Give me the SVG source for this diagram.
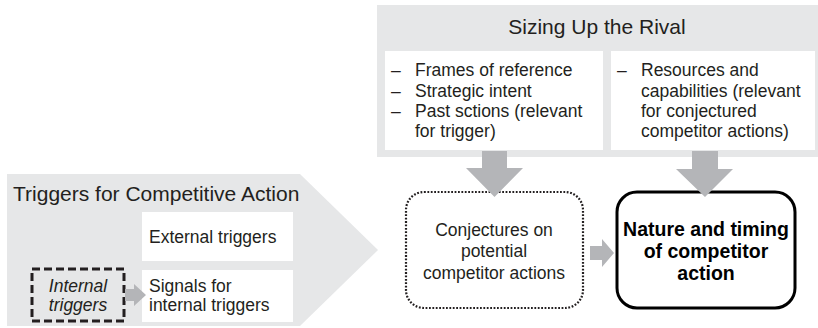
<svg xmlns="http://www.w3.org/2000/svg" width="818" height="328" viewBox="0 0 818 328">
  <style>
    .panel { fill: #e6e7e8; }
    .card { fill: #ffffff; }
    .arrow { fill: #b4b5b8; }
    .txt { font-family: "Liberation Sans", Arial, sans-serif; font-size: 17.5px; fill: #231f20; }
    .head { font-family: "Liberation Sans", Arial, sans-serif; font-size: 21px; fill: #231f20; }
    .bold { font-family: "Liberation Sans", Arial, sans-serif; font-size: 19.5px; font-weight: bold; fill: #000000; }
    .mid { text-anchor: middle; }
  </style>

  <!-- Triggers panel (chevron) -->
  <g id="triggers">
    <polygon class="panel" points="7,174 300,174 378,250 300,326 7,326"/>
    <text class="head" x="13" y="201">Triggers for Competitive Action</text>
  </g>

  <g id="external-triggers">
    <rect class="card" x="142" y="212" width="151" height="49"/>
    <text class="txt" x="149" y="243">External triggers</text>
  </g>

  <g id="signals">
    <rect class="card" x="142" y="270" width="151" height="52"/>
    <text class="txt" x="149" y="292">Signals for</text>
    <text class="txt" x="149" y="311">internal triggers</text>
  </g>

  <g id="internal-triggers">
    <rect x="32" y="269" width="92" height="52" fill="none" stroke="#231f20" stroke-width="3" stroke-dasharray="8 4"/>
    <text class="txt mid" x="78" y="292" font-style="italic">Internal</text>
    <text class="txt mid" x="78" y="311" font-style="italic">triggers</text>
  </g>

  <!-- Sizing up the rival panel -->
  <g id="sizing-up">
    <rect class="panel" x="377" y="5" width="441" height="152"/>
    <text class="head mid" x="597" y="34">Sizing Up the Rival</text>
  </g>

  <g id="rival-goals">
    <rect class="card" x="385" y="51" width="218" height="99"/>
    <g class="txt">
      <text x="391" y="76">–</text>
      <text x="415" y="76">Frames of reference</text>
      <text x="391" y="97">–</text>
      <text x="415" y="97">Strategic intent</text>
      <text x="391" y="117">–</text>
      <text x="415" y="117">Past sctions (relevant</text>
      <text x="415" y="137">for trigger)</text>
    </g>
  </g>

  <g id="rival-resources">
    <rect class="card" x="611" y="51" width="204" height="99"/>
    <g class="txt">
      <text x="617" y="76">–</text>
      <text x="641" y="76">Resources and</text>
      <text x="641" y="97">capabilities (relevant</text>
      <text x="641" y="117">for conjectured</text>
      <text x="641" y="137">competitor actions)</text>
    </g>
  </g>

  <!-- Outcome boxes -->
  <g id="conjectures">
    <rect x="406" y="192" width="177" height="116" rx="18" fill="#ffffff" stroke="#231f20" stroke-width="2.2" stroke-dasharray="1.8 1.6"/>
    <text class="txt mid" x="494" y="236">Conjectures on</text>
    <text class="txt mid" x="494" y="257">potential</text>
    <text class="txt mid" x="494" y="279">competitor actions</text>
  </g>

  <g id="competitor-action">
    <rect x="617" y="192" width="178" height="116" rx="20" fill="#ffffff" stroke="#000000" stroke-width="3"/>
    <text class="bold mid" x="706" y="236">Nature and timing</text>
    <text class="bold mid" x="706" y="258">of competitor</text>
    <text class="bold mid" x="706" y="280">action</text>
  </g>

  <!-- Connectors: block arrows -->
  <g id="connectors">
    <polygon class="arrow" points="482,151 507,151 507,168 523,168 494.5,197 466,168 482,168"/>
    <polygon class="arrow" points="692,151 718,151 718,169 733,169 705,197 676,169 692,169"/>
    <polygon class="arrow" points="590,246 602,246 602,239 614,253 602,267 602,260 590,260"/>
    <polygon class="arrow" points="125,289 134,289 134,284 146,295 134,306 134,301 125,301" fill="#c2c3c6"/>
  </g>
</svg>
